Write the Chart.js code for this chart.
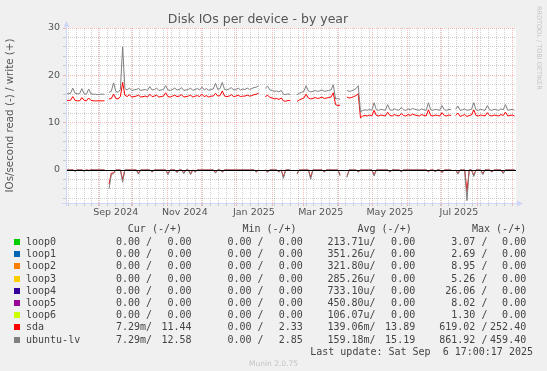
<!DOCTYPE html>
<html>
<head>
<meta charset="utf-8">
<title>Disk IOs per device - by year</title>
<script src="https://cdn.jsdelivr.net/npm/chart.js@4.4.1/dist/chart.umd.min.js"></script>
<style>
  html, body { margin: 0; padding: 0; background: #f0f0f0; }
  #wrap { position: relative; width: 547px; height: 371px; overflow: hidden; }
  #chart { position: absolute; left: 0; top: 0; }
  .lg { position: absolute; font-family: "DejaVu Sans Mono", monospace; font-size: 10px; line-height: 12px; color: #444; white-space: pre; }
  .box { position: absolute; width: 6px; height: 6px; }
  #tag { position: absolute; left: 535px; top: 6px; writing-mode: vertical-rl; font-family: "DejaVu Sans", sans-serif; font-size: 6.5px; color: #c4c4c4; }
  #foot { position: absolute; left: 0; width: 547px; top: 359px; text-align: center; font-family: "DejaVu Sans", sans-serif; font-size: 7.5px; color: #c4c4c4; }
</style>
</head>
<body>
<div id="wrap">
  <canvas id="chart" width="547" height="371"></canvas>
  <div id="tag">RRDTOOL / TOBI OETIKER</div>
  <div id="legend"></div>
  <div id="foot">Munin 2.0.75</div>
</div>
<script>
// x is counted in days from 1 Sep 2024, one sample every 2 days
const firstDay = -28.9;
const dayStep = 2;
const xMin = -28.9, xMax = 368.4;

// write (+), IOs/second
const ubuntuWrite = [
  16.1,16.1,16.2,17.3,16.2,16.1,16.1,17.2,16.1,16.0,
  17.1,16.1,16.0,16.0,15.9,16.0,16.0,16.0,null,16.4,
  16.6,18.4,16.6,16.4,17.0,26.0,17.2,16.9,17.3,16.8,
  16.9,17.0,17.2,16.8,16.9,17.0,16.8,17.6,16.9,17.0,
  17.3,16.8,16.9,17.0,17.8,16.9,16.8,17.0,17.3,16.9,
  17.0,17.4,16.8,16.9,17.0,17.3,16.8,17.0,17.2,16.9,
  17.5,16.9,17.2,16.8,17.0,17.1,18.3,17.0,17.2,18.5,
  17.0,16.9,17.1,17.4,16.9,17.0,17.3,16.9,17.1,17.0,
  17.3,17.0,17.2,17.4,17.5,17.8,null,null,17.3,17.7,
  16.9,16.8,16.6,16.7,16.5,16.8,16.0,15.9,16.1,15.9,
  null,null,15.9,16.2,16.4,16.6,17.8,16.7,16.5,16.6,
  16.8,16.6,16.7,16.9,16.6,16.7,16.8,16.9,18.0,15.0,
  15.1,14.9,null,null,16.8,16.6,16.7,16.9,17.2,17.8,
  12.2,12.6,12.7,12.6,12.8,12.6,14.2,12.7,12.6,12.8,
  12.7,12.6,13.8,12.7,12.6,12.9,12.7,12.6,13.2,12.7,
  12.6,12.9,12.7,13.0,12.8,12.7,12.6,12.9,12.7,12.6,
  14.2,12.7,12.6,12.8,12.7,12.6,13.6,12.7,12.6,12.8,
  12.7,null,12.8,13.5,12.6,12.7,12.9,12.6,12.7,12.8,
  14.2,12.7,12.6,12.8,12.7,12.6,13.6,12.7,12.6,12.8,
  12.7,12.6,12.9,12.7,13.8,12.6,12.7,12.8,12.6
];
const sdaWrite = [
  14.7,14.7,14.7,15.5,14.7,14.6,14.6,15.3,14.7,14.6,
  15.2,14.7,14.6,14.6,14.6,14.6,14.6,14.6,null,15.0,
  15.1,16.0,15.1,15.0,15.5,18.5,15.8,15.5,15.9,15.4,
  15.5,15.6,15.8,15.4,15.5,15.6,15.4,16.0,15.5,15.6,
  15.8,15.4,15.5,15.6,16.3,15.5,15.4,15.6,15.8,15.5,
  15.6,15.9,15.4,15.5,15.6,15.8,15.4,15.6,15.7,15.5,
  16.0,15.5,15.7,15.4,15.6,15.6,16.2,15.6,15.7,16.7,
  15.6,15.5,15.6,15.9,15.5,15.6,15.8,15.5,15.6,15.6,
  15.8,15.6,15.7,15.9,16.0,16.2,null,null,15.5,15.8,
  15.3,15.2,15.0,15.1,14.9,15.2,14.6,14.5,14.7,14.6,
  null,null,14.5,14.8,15.0,15.2,16.0,15.2,15.0,15.1,
  15.3,15.1,15.2,15.4,15.1,15.2,15.3,15.4,16.3,13.8,
  13.6,13.7,null,null,15.4,15.2,15.3,15.5,15.7,16.1,
  11.0,11.4,11.5,11.4,11.6,11.4,12.6,11.5,11.4,11.6,
  11.5,11.4,12.2,11.5,11.4,11.7,11.5,11.4,11.9,11.5,
  11.4,11.7,11.5,11.8,11.6,11.5,11.4,11.7,11.5,11.4,
  12.7,11.5,11.4,11.6,11.5,11.4,12.1,11.5,11.4,11.6,
  11.5,null,11.5,12.0,11.3,11.5,11.7,11.3,11.5,11.6,
  12.7,11.5,11.4,11.6,11.5,11.4,12.1,11.5,11.4,11.6,
  11.5,11.4,11.7,11.5,12.2,11.4,11.5,11.6,11.4
];
// read (-), drawn below zero
const ubuntuRead = [
  0,0,0,0,-0.3,0,0,0,-0.3,0,
  -0.2,0,0,0,0,0,0,0,null,-4.0,
  -1.0,-0.8,0,0,0,-2.6,0,0,0,0,
  0,0,-0.9,0,0,0,0,0,-0.5,0,
  0,0,0,0,0,-1.0,0,0,0,-0.6,
  0,0,-0.8,0,0,-1.0,0,-0.5,0,0,
  0,0,0,0,0,0,-0.7,0,0,-0.5,
  0,0,0,0,0,0,0,0,0,0,
  0,0,0,0,-0.5,0,null,null,0,-0.5,
  0,0,0,0,-0.5,0,-1.8,0,0,0,
  null,null,-0.9,0,0,0,0,0,-2.0,0,
  0,0,0,0,-0.5,0,0,0,0,0,
  0,-1.3,null,null,-1.6,0,0,0,0,-0.5,
  0,0,0,0,0,0,-1.3,0,0,0,
  0,0,0,-0.5,0,0,0,0,-0.4,0,
  0,0,0,0,0,0,0,0,0,0,
  -0.4,0,0,-0.4,0,0,-0.6,0,0,0,
  0,null,0,-0.9,0,0,0,-6.5,0,0,
  -1.4,0,0,0,-1.0,0,0,0,-0.5,0,
  0,0,0,-0.8,0,0,0,0,0
];
const sdaRead = [
  0,0,0,0,-0.2,0,0,0,-0.2,0,
  -0.1,0,0,0,0,0,0,0,null,-3.0,
  -0.7,-0.6,0,0,0,-2.0,0,0,0,0,
  0,0,-0.7,0,0,0,0,0,-0.4,0,
  0,0,0,0,0,-0.8,0,0,0,-0.4,
  0,0,-0.6,0,0,-0.8,0,-0.4,0,0,
  0,0,0,0,0,0,-0.5,0,0,-0.4,
  0,0,0,0,0,0,0,0,0,0,
  0,0,0,0,-0.4,0,null,null,0,-0.4,
  0,0,0,0,-0.4,0,-1.4,0,0,0,
  null,null,-0.7,0,0,0,0,0,-1.5,0,
  0,0,0,0,-0.4,0,0,0,0,0,
  0,-1.0,null,null,-1.4,0,0,0,0,-0.4,
  0,0,0,0,0,0,-1.0,0,0,0,
  0,0,0,-0.4,0,0,0,0,-0.3,0,
  0,0,0,0,0,0,0,0,0,0,
  -0.3,0,0,-0.3,0,0,-0.5,0,0,0,
  0,null,0,-0.7,0,0,0,-4.6,0,0,
  -1.1,0,0,0,-0.8,0,0,0,-0.4,0,
  0,0,0,-0.6,0,0,0,0,0
];

// axis ticks / labels
const monthStarts = [0, 30, 61, 91, 122, 153, 181, 212, 242, 273, 303, 334, 365];
const firstMonday = -27;
const xLabels = ['Sep 2024', 'Nov 2024', 'Jan 2025', 'Mar 2025', 'May 2025', 'Jul 2025'];
const xLabelDays = [15, 76, 137, 196, 257, 318];
const yTicks = [-6, -4, -2, 0, 2, 4, 6, 8, 10, 12, 14, 16, 18, 20, 22, 24, 26, 28, 30];
const yLabels = [0, 10, 20, 30];

// legend table
const seriesNames = ['loop0', 'loop1', 'loop2', 'loop3', 'loop4', 'loop5', 'loop6', 'sda', 'ubuntu-lv'];
const seriesColors = ['#00CC00', '#0066B3', '#FF8000', '#FFCC00', '#330099', '#990099', '#CCFF00', '#FF0000', '#808080'];
const curRead = ['0.00 ', '0.00 ', '0.00 ', '0.00 ', '0.00 ', '0.00 ', '0.00 ', '7.29m', '7.29m'];
const curWrite = ['0.00', '0.00', '0.00', '0.00', '0.00', '0.00', '0.00', '11.44', '12.58'];
const minRead = ['0.00 ', '0.00 ', '0.00 ', '0.00 ', '0.00 ', '0.00 ', '0.00 ', '0.00 ', '0.00 '];
const minWrite = ['0.00', '0.00', '0.00', '0.00', '0.00', '0.00', '0.00', '2.33', '2.85'];
const avgRead = ['213.71u', '351.26u', '321.80u', '285.26u', '733.10u', '450.80u', '106.07u', '139.06m', '159.18m'];
const avgWrite = ['0.00', '0.00', '0.00', '0.00', '0.00', '0.00', '0.00', '13.89', '15.19'];
const maxRead = ['3.07 ', '2.69 ', '8.95 ', '5.26 ', '26.06 ', '8.02 ', '1.30 ', '619.02 ', '861.92 '];
const maxWrite = ['0.00', '0.00', '0.00', '0.00', '0.00', '0.00', '0.00', '252.40', '459.40'];
const headers = ['Cur (-/+)', 'Min (-/+)', 'Avg (-/+)', 'Max (-/+)'];
const lastUpdate = 'Last update: Sat Sep  6 17:00:17 2025';

const toPoints = arr => arr.map((v, i) => ({ x: firstDay + i * dayStep, y: v }));

const weekDays = [];
for (let d = firstMonday; d <= xMax; d += 7) weekDays.push(d);
const monthSet = new Set(monthStarts);
const weekSet = new Set(weekDays);
const labelAt = new Map(xLabelDays.map((d, i) => [d, xLabels[i]]));
const xTickList = [...new Set([...weekDays, ...monthStarts, ...xLabelDays])].sort((a, b) => a - b);

const MINOR = 'rgba(140,140,140,0.4)';
const MAJOR = 'rgba(235,90,90,0.4)';

const rrdDecor = {
    id: 'rrdDecor',
    beforeDraw(chart) {
        const { ctx, chartArea: a } = chart;
        ctx.save();
        ctx.fillStyle = '#ffffff';
        ctx.fillRect(a.left, a.top, a.right - a.left, a.bottom - a.top);
        ctx.restore();
    },
    afterDatasetsDraw(chart) {
        const { ctx, chartArea: a, scales } = chart;
        const y0 = Math.round(scales.y.getPixelForValue(0)) + 0.5;
        ctx.save();
        // zero line
        ctx.strokeStyle = '#000000';
        ctx.lineWidth = 1;
        ctx.beginPath();
        ctx.moveTo(a.left, y0);
        ctx.lineTo(a.right, y0);
        ctx.stroke();
        // axes with arrows
        const ax = Math.round(a.left) + 0.5, ay = Math.round(a.bottom) + 0.5;
        ctx.strokeStyle = '#CFD6F8';
        ctx.fillStyle = '#CFD6F8';
        ctx.beginPath();
        ctx.moveTo(ax, a.bottom + 3);
        ctx.lineTo(ax, a.top - 4);
        ctx.moveTo(a.left - 4, ay);
        ctx.lineTo(a.right + 3, ay);
        ctx.stroke();
        ctx.beginPath();
        ctx.moveTo(ax - 3, a.top - 1);
        ctx.lineTo(ax + 3, a.top - 1);
        ctx.lineTo(ax, a.top - 7);
        ctx.closePath();
        ctx.fill();
        ctx.beginPath();
        ctx.moveTo(a.right + 1, ay - 3);
        ctx.lineTo(a.right + 1, ay + 3);
        ctx.lineTo(a.right + 7, ay);
        ctx.closePath();
        ctx.fill();
        ctx.restore();
    }
};

const lineStyle = { borderWidth: 1, pointRadius: 0, tension: 0, spanGaps: false, fill: false };

new Chart(document.getElementById('chart').getContext('2d'), {
    type: 'line',
    data: {
        datasets: [
            { label: 'ubuntu-lv write', data: toPoints(ubuntuWrite), borderColor: '#808080', ...lineStyle },
            { label: 'ubuntu-lv read', data: toPoints(ubuntuRead), borderColor: '#808080', ...lineStyle },
            { label: 'sda write', data: toPoints(sdaWrite), borderColor: '#FF0000', ...lineStyle },
            { label: 'sda read', data: toPoints(sdaRead), borderColor: '#FF0000', ...lineStyle }
        ]
    },
    options: {
        responsive: false,
        animation: false,
        events: [],
        layout: { padding: { left: 0, right: 31, top: 0, bottom: 148 } },
        plugins: {
            legend: { display: false },
            tooltip: { enabled: false },
            title: {
                display: true,
                text: 'Disk IOs per device - by year',
                color: '#555',
                font: { family: 'DejaVu Sans', size: 12.5, weight: 'normal' },
                padding: { top: 12, bottom: 1 }
            }
        },
        scales: {
            x: {
                type: 'linear',
                min: xMin,
                max: xMax,
                afterBuildTicks: s => { s.ticks = xTickList.map(v => ({ value: v })); },
                afterFit: s => { s.height = 20; },
                grid: {
                    color: c => {
                        const v = c.tick ? c.tick.value : null;
                        if (monthSet.has(v)) return MAJOR;
                        if (weekSet.has(v)) return MINOR;
                        return 'rgba(0,0,0,0)';
                    },
                    tickLength: 3
                },
                border: { display: false, dash: [1, 1] },
                ticks: {
                    autoSkip: false,
                    maxRotation: 0,
                    minRotation: 0,
                    padding: 1,
                    color: '#555',
                    font: { family: 'DejaVu Sans', size: 9.5 },
                    callback: v => labelAt.get(v) || ''
                }
            },
            y: {
                type: 'linear',
                min: -7,
                max: 30,
                afterBuildTicks: s => { s.ticks = yTicks.map(v => ({ value: v })); },
                afterFit: s => { s.width = 66; },
                grid: {
                    color: c => {
                        const v = c.tick ? c.tick.value : null;
                        if (v === 0) return 'rgba(0,0,0,0)';
                        return v % 10 === 0 ? MAJOR : MINOR;
                    },
                    tickLength: 3
                },
                border: { display: false, dash: [1, 1] },
                ticks: {
                    autoSkip: false,
                    padding: 3,
                    color: '#555',
                    font: { family: 'DejaVu Sans', size: 9.5 },
                    callback: v => yLabels.includes(v) ? String(v) : ''
                },
                title: {
                    display: true,
                    text: 'IOs/second read (-) / write (+)',
                    color: '#555',
                    font: { family: 'DejaVu Sans', size: 10.3 },
                    padding: { top: 4, bottom: 0 }
                }
            }
        }
    },
    plugins: [rrdDecor]
});

// legend rows below the plot
const legend = document.getElementById('legend');
const rowTop = 242, rowStep = 12.2, headerY = 229;
const readRight = [152, 263.5, 375.6, 487.4];
const writeRight = [191.5, 302.9, 415.2, 526.2];
const headerRight = [182, 296.6, 411.7, 526.2];

function addText(text, cy, opts) {
    const el = document.createElement('div');
    el.className = 'lg';
    el.textContent = text;
    el.style.top = (cy - 6) + 'px';
    if (opts.left !== undefined) el.style.left = opts.left + 'px';
    if (opts.right !== undefined) { el.style.right = (547 - opts.right) + 'px'; el.style.textAlign = 'right'; }
    legend.appendChild(el);
}

headers.forEach((h, k) => addText(h, headerY, { right: headerRight[k] }));
seriesNames.forEach((name, i) => {
    const cy = rowTop + i * rowStep;
    const box = document.createElement('div');
    box.className = 'box';
    box.style.left = '14px';
    box.style.top = (cy - 3) + 'px';
    box.style.background = seriesColors[i];
    legend.appendChild(box);
    addText(name, cy, { left: 26 });
    const reads = [curRead[i], minRead[i], avgRead[i], maxRead[i]];
    const writes = [curWrite[i], minWrite[i], avgWrite[i], maxWrite[i]];
    reads.forEach((r, k) => addText(r + '/', cy, { right: readRight[k] }));
    writes.forEach((w, k) => addText(w, cy, { right: writeRight[k] }));
});
addText(lastUpdate, rowTop + seriesNames.length * rowStep, { right: 533 });
</script>
</body>
</html>
